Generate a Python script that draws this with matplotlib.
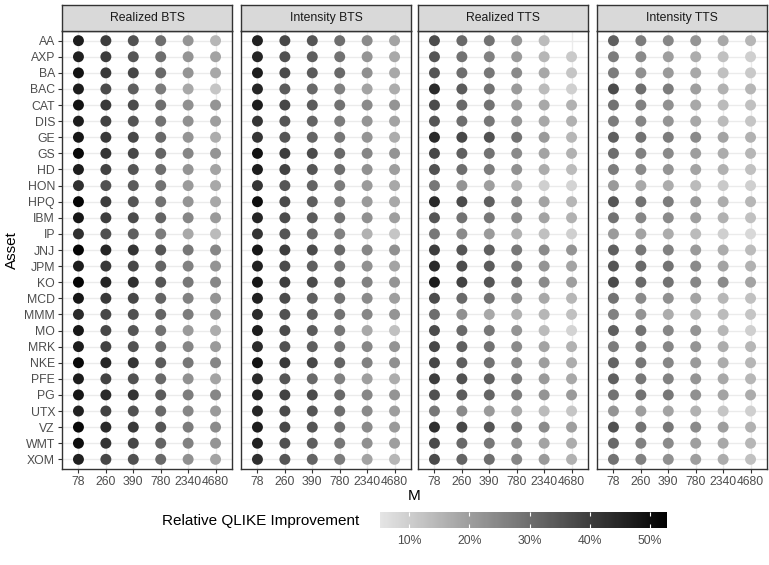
import numpy as np
import matplotlib
matplotlib.use("Agg")
import matplotlib.pyplot as plt
from matplotlib.colors import LinearSegmentedColormap, Normalize
from matplotlib.cm import ScalarMappable

plt.rcParams["font.family"] = ["Liberation Sans", "DejaVu Sans"]

# Assets, sampling frequencies and panel titles
assets = ["AA", "AXP", "BA", "BAC", "CAT", "DIS", "GE", "GS", "HD", "HON",
          "HPQ", "IBM", "IP", "JNJ", "JPM", "KO", "MCD", "MMM", "MO", "MRK",
          "NKE", "PFE", "PG", "UTX", "VZ", "WMT", "XOM"]
m_labels = ["78", "260", "390", "780", "2340", "4680"]
panel_titles = ["Realized BTS", "Intensity BTS", "Realized TTS", "Intensity TTS"]

# Relative QLIKE improvement (%), one row per asset, one column per M
realized_bts = [
    [47, 40, 36, 30, 22, 15], [46, 40, 35, 30, 22, 19], [49, 41, 38, 31, 22, 18],
    [47, 37, 33, 27, 18, 12], [49, 41, 37, 30, 23, 22], [47, 39, 35, 29, 23, 20],
    [48, 41, 38, 31, 22, 17], [51, 42, 38, 32, 25, 22], [47, 39, 35, 30, 22, 19],
    [43, 36, 34, 29, 21, 18], [52, 40, 35, 29, 22, 18], [48, 40, 37, 32, 25, 21],
    [43, 36, 33, 27, 18, 14], [52, 45, 42, 35, 28, 25], [47, 41, 38, 32, 26, 22],
    [52, 45, 43, 35, 28, 25], [48, 41, 38, 32, 26, 22], [44, 38, 36, 32, 27, 22],
    [48, 38, 35, 29, 21, 17], [47, 39, 36, 31, 25, 21], [51, 45, 42, 34, 28, 25],
    [47, 39, 36, 31, 23, 19], [48, 44, 42, 34, 27, 25], [46, 39, 36, 31, 25, 21],
    [51, 44, 41, 35, 27, 24], [50, 42, 38, 32, 26, 22], [46, 38, 36, 31, 23, 19],
]
intensity_bts = [
    [46, 38, 35, 30, 24, 19], [45, 36, 33, 29, 22, 18], [47, 37, 34, 31, 23, 18],
    [45, 34, 31, 26, 19, 17], [47, 38, 34, 29, 24, 22], [42, 35, 32, 27, 22, 19],
    [42, 35, 32, 28, 22, 17], [49, 40, 37, 31, 25, 22], [47, 39, 35, 30, 23, 20],
    [42, 35, 32, 27, 21, 18], [50, 37, 33, 27, 21, 18], [45, 37, 34, 29, 23, 20],
    [42, 35, 31, 26, 16, 12], [48, 40, 37, 31, 25, 23], [46, 37, 33, 29, 23, 19],
    [48, 40, 37, 32, 26, 22], [46, 37, 33, 29, 24, 20], [44, 36, 33, 29, 25, 22],
    [47, 37, 34, 28, 18, 13], [44, 36, 33, 29, 25, 22], [49, 41, 38, 32, 26, 23],
    [44, 35, 31, 26, 20, 17], [46, 39, 37, 31, 25, 22], [45, 37, 35, 30, 24, 20],
    [47, 38, 35, 30, 24, 21], [46, 36, 33, 28, 23, 20], [43, 35, 32, 27, 19, 15],
]
realized_tts = [
    [37, 31, 29, 22, 14, np.nan], [35, 29, 26, 21, 15, 11], [35, 30, 28, 24, 18, 12],
    [44, 34, 29, 21, 14, 10], [37, 31, 29, 21, 18, 16], [35, 30, 28, 22, 18, 16],
    [44, 38, 36, 29, 21, 15], [38, 33, 29, 24, 19, 16], [36, 30, 27, 23, 17, 14],
    [28, 22, 20, 16, 10, 9], [44, 37, 33, 25, 19, 15], [35, 29, 28, 24, 19, 16],
    [28, 24, 21, 16, 13, 10], [40, 35, 33, 28, 24, 22], [44, 37, 34, 28, 22, 19],
    [47, 39, 35, 30, 24, 20], [37, 31, 29, 23, 18, 15], [30, 23, 18, 16, 15, 13],
    [37, 31, 28, 22, 14, 9], [38, 33, 29, 24, 19, 16], [38, 33, 29, 24, 20, 17],
    [40, 36, 33, 27, 21, 18], [36, 34, 32, 27, 22, 21], [28, 24, 21, 18, 14, 12],
    [43, 38, 35, 29, 24, 20], [37, 31, 28, 23, 19, 17], [37, 32, 30, 25, 21, 16],
]
intensity_tts = [
    [33, 27, 25, 22, 18, 15], [27, 24, 20, 17, 13, 10], [27, 23, 21, 18, 13, 11],
    [37, 30, 27, 20, 16, 15], [29, 26, 23, 18, 14, 13], [27, 25, 22, 18, 14, 12],
    [33, 29, 27, 24, 19, 16], [30, 26, 24, 20, 17, 15], [27, 24, 22, 19, 16, 13],
    [21, 18, 17, 14, 11, 10], [35, 29, 27, 21, 17, 15], [29, 25, 24, 20, 16, 13],
    [21, 19, 17, 14, 10, 8], [33, 28, 26, 21, 17, 14], [35, 31, 29, 24, 19, 16],
    [37, 31, 29, 25, 24, 19], [29, 24, 23, 19, 15, 13], [26, 22, 17, 15, 14, 12],
    [33, 29, 25, 22, 15, 10], [27, 27, 25, 22, 17, 15], [32, 28, 25, 21, 17, 15],
    [33, 28, 26, 22, 18, 15], [29, 29, 28, 23, 19, 17], [22, 20, 19, 16, 12, 10],
    [36, 29, 28, 24, 20, 16], [31, 26, 24, 20, 18, 15], [29, 26, 23, 20, 17, 13],
]
panels = [realized_bts, intensity_bts, realized_tts, intensity_tts]
color_limits = (5.2, 52.8)
legend_ticks = [10, 20, 30, 40, 50]

W, H = 769, 565
fig = plt.figure(figsize=(W / 100, H / 100), dpi=100)

cmap = LinearSegmentedColormap.from_list("greys", ["#E5E5E5", "#000000"])
norm = Normalize(*color_limits)

def px(x0, y0, w, h):
    # rectangle in pixels (top-left origin) -> figure fraction
    return [x0 / W, 1 - (y0 + h) / H, w / W, h / H]

panel_left = [62, 241, 418, 597]
panel_w = 170
panel_top, panel_bottom = 31, 469
strip_top = 5

xs, ys = np.meshgrid(np.arange(len(m_labels)), np.arange(len(assets)))

for i, (vals, title) in enumerate(zip(panels, panel_titles)):
    ax = fig.add_axes(px(panel_left[i], panel_top, panel_w, panel_bottom - panel_top))
    v = np.array(vals, dtype=float)
    ok = ~np.isnan(v)
    ax.scatter(xs[ok], ys[ok], c=v[ok], cmap=cmap, norm=norm, s=62,
               linewidths=0, zorder=3)
    ax.set_xlim(-0.6, len(m_labels) - 0.4)
    ax.set_ylim(len(assets) - 0.4, -0.6)
    ax.set_xticks(range(len(m_labels)))
    ax.set_xticklabels(m_labels)
    ax.set_yticks(range(len(assets)))
    if i == 0:
        ax.set_yticklabels(assets)
        ax.tick_params(axis="y", length=3, width=0.8, color="#333333",
                       labelcolor="#4D4D4D", labelsize=8.8, pad=2)
    else:
        ax.tick_params(axis="y", length=0, labelleft=False)
    ax.tick_params(axis="x", length=3, width=0.8, color="#333333",
                   labelcolor="#4D4D4D", labelsize=8.8, pad=2)
    ax.grid(True, color="#EBEBEB", linewidth=1.0, zorder=0)
    ax.set_axisbelow(True)
    for sp in ax.spines.values():
        sp.set_color("#333333")
        sp.set_linewidth(1.0)

    # facet strip
    sax = fig.add_axes(px(panel_left[i], strip_top, panel_w, panel_top - strip_top))
    sax.set_facecolor("#D9D9D9")
    sax.set_xticks([])
    sax.set_yticks([])
    for sp in sax.spines.values():
        sp.set_color("#333333")
        sp.set_linewidth(1.0)
    sax.text(0.5, 0.5, title, ha="center", va="center", fontsize=8.8,
             color="#1A1A1A", transform=sax.transAxes)

# axis titles
fig.text((62 + 767) / 2 / W, 1 - 496 / H, "M", ha="center", va="center",
         fontsize=11, color="black")
fig.text(12 / W, 1 - 250 / H, "Asset", ha="center", va="center",
         rotation=90, fontsize=11, color="black")

# colour legend
cax = fig.add_axes(px(380, 512, 287, 16))
sm = ScalarMappable(norm=norm, cmap=cmap)
cb = fig.colorbar(sm, cax=cax, orientation="horizontal")
cb.outline.set_visible(False)
cb.set_ticks(legend_ticks)
cb.set_ticklabels([f"{t}%" for t in legend_ticks])
cax.tick_params(axis="x", direction="in", length=3, width=0.8, color="white",
                top=True, bottom=True, labelsize=8.8, labelcolor="#4D4D4D", pad=5)
fig.text(162 / W, 1 - 521 / H, "Relative QLIKE Improvement", ha="left",
         va="center", fontsize=11, color="black")

fig.savefig("out.png", dpi=100)
